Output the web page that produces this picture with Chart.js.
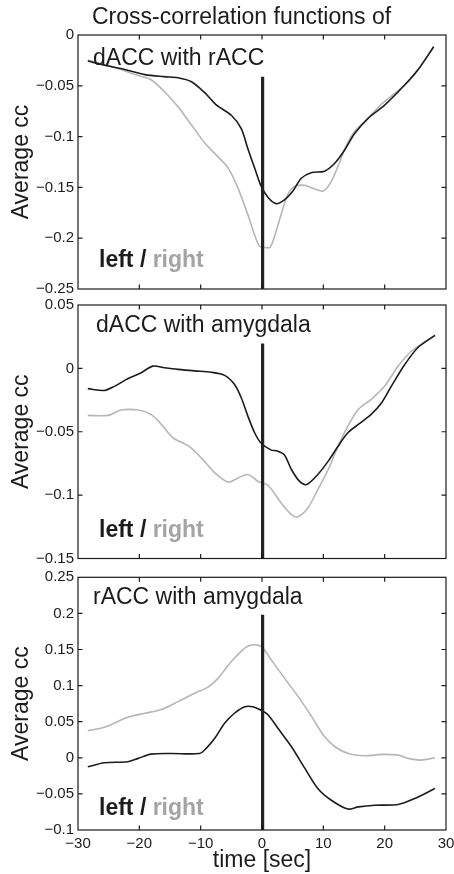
<!DOCTYPE html>
<html>
<head>
<meta charset="utf-8">
<script src="https://cdn.jsdelivr.net/npm/chart.js@4.4.1/dist/chart.umd.min.js"></script>
<style>
  html, body { margin: 0; padding: 0; background: #ffffff; }
  #wrap { position: relative; width: 454px; height: 874px; overflow: hidden; }
  canvas { position: absolute; left: 0; top: 0; }
</style>
</head>
<body>
<div id="wrap">
  <canvas id="c1" width="454" height="874"></canvas>
  <canvas id="c2" width="454" height="874"></canvas>
  <canvas id="c3" width="454" height="874"></canvas>
</div>
<script>
// ---------- Data ----------
const xTicks = [-30, -20, -10, 0, 10, 20, 30];

// Panel 1: dACC with rACC
const p1LeftT  = [-28.4, -25.5, -23, -19.1, -16, -13.7, -11.5, -9.3, -7.4, -5.0, -3.4, -2.3, -1.2, -0.2, 1.0, 2.3, 3.7, 5.1, 6.4, 8.0, 10.2, 11.9, 13.5, 15.1, 17.3, 20.0, 23.3, 25.4, 28.0];
const p1LeftY  = [-0.0256, -0.030, -0.033, -0.039, -0.041, -0.042, -0.046, -0.057, -0.069, -0.079, -0.092, -0.112, -0.131, -0.148, -0.160, -0.166, -0.162, -0.153, -0.141, -0.1355, -0.134, -0.126, -0.113, -0.097, -0.082, -0.069, -0.049, -0.0345, -0.0115];
const p1RightT = [-28.4, -23.5, -20.8, -18.1, -15.9, -13.7, -11.5, -9.3, -7.2, -5.5, -3.9, -2.3, -1.2, -0.4, 0.2, 1.3, 2.1, 3.1, 4.2, 5.3, 7.0, 8.6, 10.0, 11.3, 12.7, 13.8, 15.1, 16.8, 19.5, 23.3, 25.4, 28.0];
const p1RightY = [-0.0246, -0.033, -0.0387, -0.044, -0.0558, -0.0705, -0.0886, -0.1066, -0.1197, -0.131, -0.151, -0.177, -0.197, -0.208, -0.209, -0.209, -0.197, -0.177, -0.157, -0.149, -0.148, -0.1516, -0.1535, -0.144, -0.1247, -0.108, -0.095, -0.085, -0.068, -0.049, -0.0345, -0.0115];
const p1Marker = [-0.041, -0.25];
const p1YTicks = [0, -0.05, -0.1, -0.15, -0.2, -0.25];

// Panel 2: dACC with amygdala
const p2LeftT  = [-28.4, -25.7, -24.0, -21.9, -19.7, -17.8, -15.9, -13.7, -11.0, -8.3, -6.1, -4.5, -3.4, -2.3, -1.2, -0.2, 1.5, 2.4, 3.6, 4.8, 6.1, 7.3, 9.1, 10.8, 12.4, 14.0, 15.7, 17.8, 19.5, 21.1, 23.3, 25.4, 28.2];
const p2LeftY  = [-0.016, -0.0174, -0.014, -0.0082, -0.0034, 0.0018, 0.0005, -0.0008, -0.002, -0.003, -0.0055, -0.0126, -0.023, -0.0377, -0.0508, -0.0587, -0.0645, -0.065, -0.068, -0.0798, -0.089, -0.0916, -0.0837, -0.0732, -0.0614, -0.0508, -0.0442, -0.0363, -0.0271, -0.014, 0.0032, 0.0163, 0.026];
const p2RightT = [-28.4, -25.1, -23, -20.2, -18.1, -16.4, -14.5, -12.1, -9.9, -7.7, -5.5, -3.9, -2.3, -0.7, 1.0, 3.1, 4.8, 5.9, 7.5, 9.1, 10.8, 12.4, 14.0, 15.7, 17.8, 20.0, 22.2, 24.4, 28.2];
const p2RightY = [-0.0371, -0.0371, -0.0329, -0.0329, -0.0363, -0.0442, -0.0548, -0.0608, -0.0706, -0.0824, -0.0898, -0.0864, -0.0837, -0.089, -0.0924, -0.106, -0.1153, -0.117, -0.110, -0.0956, -0.0798, -0.0614, -0.0456, -0.0324, -0.0245, -0.014, 0.0018, 0.0137, 0.026];
const p2Marker = [0.0197, -0.15];
const p2YTicks = [0.05, 0, -0.05, -0.1, -0.15];

// Panel 3: rACC with amygdala
const p3LeftT  = [-28.4, -25.7, -21.9, -20.2, -18.1, -14.8, -10.2, -9.1, -7.7, -6.1, -4.5, -2.8, -1.5, -0.4, 1.0, 2.6, 4.8, 7.0, 9.1, 11.3, 14.0, 15.7, 18.4, 22.2, 24.9, 28.2];
const p3LeftY  = [-0.0125, -0.0069, -0.0055, -0.0008, 0.0051, 0.006, 0.006, 0.013, 0.027, 0.0478, 0.0617, 0.0708, 0.0708, 0.067, 0.0593, 0.0408, 0.0153, -0.0147, -0.0425, -0.0588, -0.0710, -0.068, -0.0657, -0.0647, -0.0564, -0.0425];
const p3RightT = [-28.4, -25.7, -21.9, -19.1, -16.4, -13.7, -11.0, -8.8, -7.2, -5.0, -2.8, -1.5, -0.1, 1.5, 3.7, 5.9, 8.1, 10.0, 11.9, 14.1, 16.8, 19.5, 22.2, 23.8, 26.0, 28.2];
const p3RightY = [0.0375, 0.0422, 0.056, 0.0617, 0.067, 0.0778, 0.0894, 0.0978, 0.110, 0.1333, 0.152, 0.1565, 0.154, 0.1357, 0.110, 0.0847, 0.057, 0.0315, 0.0153, 0.006, 0.0028, 0.0047, 0.0037, -0.0008, -0.0032, 0.0];
const p3Marker = [0.198, -0.1];
const p3YTicks = [0.25, 0.2, 0.15, 0.1, 0.05, 0, -0.05, -0.1];

const markerTime = 0.1;
const mainTitle = 'Cross-correlation functions of';
const panelTitles = ['dACC with rACC', 'dACC with amygdala', 'rACC with amygdala'];

// ---------- Styling / layout ----------
const FONT = '"Liberation Sans", Arial, Helvetica, sans-serif';
Chart.defaults.font.family = FONT;
const INK = '#1c1c1c';
const GRAY = '#b6b6b6';
const W = 454, H = 874;
const AREA_LEFT = 78, AREA_RIGHT = 446;

function zip(t, y) { return t.map((v, i) => ({ x: v, y: y[i] })); }
function fmt(v) {
  const r = Math.round(v * 100) / 100;
  const s = String(Math.abs(r));
  return (r < 0 ? '\u2212' : '') + s;
}

const framePlugin = {
  id: 'frame',
  afterDraw(chart) {
    const { ctx, chartArea: a, scales } = chart;
    ctx.save();
    ctx.strokeStyle = INK;
    ctx.lineWidth = 1.2;
    ctx.strokeRect(a.left, a.top, a.right - a.left, a.bottom - a.top);
    const L = 4.5;
    ctx.beginPath();
    xTicks.forEach(v => {
      const px = scales.x.getPixelForValue(v);
      if (px <= a.left + 1 || px >= a.right - 1) return;
      ctx.moveTo(px, a.bottom); ctx.lineTo(px, a.bottom - L);
      ctx.moveTo(px, a.top); ctx.lineTo(px, a.top + L);
    });
    chart.options.yTickVals.forEach(v => {
      const py = scales.y.getPixelForValue(v);
      if (py <= a.top + 1 || py >= a.bottom - 1) return;
      ctx.moveTo(a.left, py); ctx.lineTo(a.left + L, py);
      ctx.moveTo(a.right, py); ctx.lineTo(a.right - L, py);
    });
    ctx.stroke();

    // texts
    const t = chart.options.texts;
    ctx.textBaseline = 'alphabetic';
    ctx.textAlign = 'left';
    if (t.main) {
      ctx.fillStyle = INK;
      ctx.font = '23px ' + FONT;
      ctx.fillText(t.main, 92, 24);
    }
    ctx.fillStyle = INK;
    ctx.font = '23px ' + FONT;
    ctx.fillText(t.panel, t.px, t.py);
    ctx.font = 'bold 23px ' + FONT;
    let x = 99;
    ctx.fillStyle = INK;
    ctx.fillText('left', x, t.ly);
    x += ctx.measureText('left').width;
    ctx.fillText(' / ', x, t.ly);
    x += ctx.measureText(' / ').width;
    ctx.fillStyle = '#a4a4a4';
    ctx.fillText('right', x, t.ly);
    ctx.restore();
  }
};

function makeChart(id, cfg) {
  const showX = !!cfg.showX;
  return new Chart(document.getElementById(id), {
    type: 'line',
    data: {
      datasets: [
        { data: [{ x: markerTime, y: cfg.marker[0] }, { x: markerTime, y: cfg.marker[1] }],
          borderColor: '#222222', borderWidth: 3.2, pointRadius: 0, tension: 0 },
        { data: zip(cfg.lt, cfg.ly), borderColor: INK, borderWidth: 1.6, pointRadius: 0, tension: 0.3 },
        { data: zip(cfg.rt, cfg.ry), borderColor: GRAY, borderWidth: 1.6, pointRadius: 0, tension: 0.3 }
      ]
    },
    options: {
      responsive: false,
      animation: false,
      events: [],
      yTickVals: cfg.yTicks,
      texts: cfg.texts,
      layout: { padding: { left: 0, right: W - AREA_RIGHT, top: cfg.top, bottom: 0 } },
      plugins: { legend: { display: false }, tooltip: { enabled: false }, title: { display: false } },
      scales: {
        x: {
          type: 'linear', min: -30, max: 30,
          afterBuildTicks(s) { s.ticks = xTicks.map(v => ({ value: v })); },
          ticks: { display: showX, padding: 5, color: INK, font: { size: 15 }, callback: v => fmt(v), maxRotation: 0, autoSkip: false },
          grid: { display: false, drawTicks: false },
          border: { display: false },
          title: { display: showX, text: 'time [sec]', color: INK, font: { size: 23 }, padding: { top: 0, bottom: 0 } },
          afterFit(s) { s.height = H - cfg.bottom; s.paddingLeft = 0; s.paddingRight = 0; }
        },
        y: {
          type: 'linear', min: cfg.ymin, max: cfg.ymax,
          afterBuildTicks(s) { s.ticks = cfg.yTicks.map(v => ({ value: v })); },
          ticks: { padding: 4, color: INK, font: { size: 15 }, callback: v => fmt(v), autoSkip: false },
          grid: { display: false, drawTicks: false },
          border: { display: false },
          title: { display: true, text: 'Average cc', color: INK, font: { size: 23 }, padding: { top: 8, bottom: 0 } },
          afterFit(s) { s.width = AREA_LEFT; s.paddingTop = 0; s.paddingBottom = 0; }
        }
      }
    },
    plugins: [framePlugin]
  });
}

makeChart('c1', {
  top: 35, bottom: 289, ymin: -0.25, ymax: 0, yTicks: p1YTicks,
  lt: p1LeftT, ly: p1LeftY, rt: p1RightT, ry: p1RightY, marker: p1Marker,
  texts: { main: mainTitle, panel: panelTitles[0], px: 93, py: 65, ly: 267 }
});
makeChart('c2', {
  top: 305, bottom: 558.5, ymin: -0.15, ymax: 0.05, yTicks: p2YTicks,
  lt: p2LeftT, ly: p2LeftY, rt: p2RightT, ry: p2RightY, marker: p2Marker,
  texts: { panel: panelTitles[1], px: 96, py: 332, ly: 537 }
});
makeChart('c3', {
  top: 577.3, bottom: 830, ymin: -0.1, ymax: 0.25, yTicks: p3YTicks, showX: true,
  lt: p3LeftT, ly: p3LeftY, rt: p3RightT, ry: p3RightY, marker: p3Marker,
  texts: { panel: panelTitles[2], px: 93, py: 604, ly: 815 }
});
</script>
</body>
</html>
